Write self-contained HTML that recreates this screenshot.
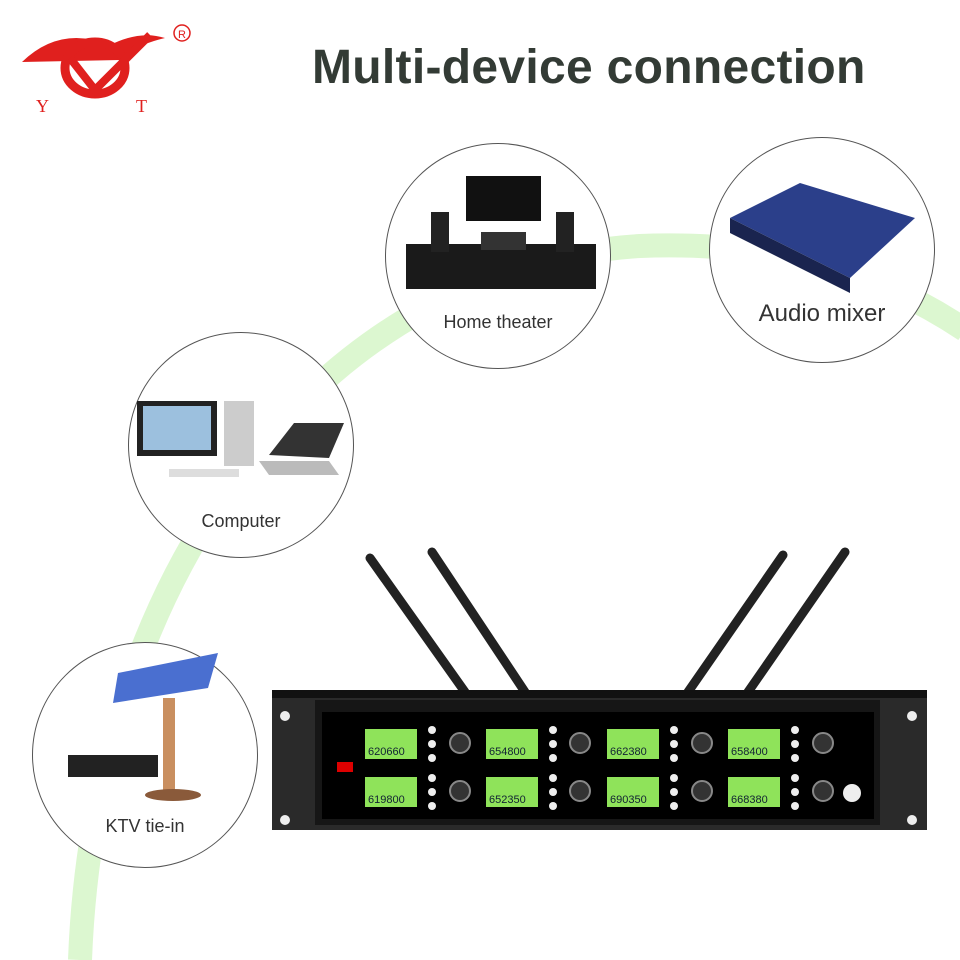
<!DOCTYPE html>
<html><head><meta charset="utf-8"><style>
body{margin:0;background:#fff;width:960px;height:960px;overflow:hidden;position:relative;font-family:"Liberation Sans",sans-serif}
.t{position:absolute;left:312px;top:40px;font-size:48px;font-weight:bold;color:#333b35;letter-spacing:0.3px}
.c{position:absolute;border:1.5px solid #555;border-radius:50%;background:#fff;box-sizing:border-box}
.lbl{position:absolute;width:100%;text-align:center;color:#333;font-size:18px}
</style></head><body>
<svg width="960" height="960" style="position:absolute;left:0;top:0">
<path d="M80 960 C 95 560 330 265 640 246 C 790 240 890 280 965 330" fill="none" stroke="#dcf7d0" stroke-width="24"/>
<path d="M22 62 Q60 25 110 45 Q140 30 165 38 Q135 45 120 60" fill="#e0201e"/>
<ellipse cx="95" cy="68" rx="30" ry="26" fill="none" stroke="#e0201e" stroke-width="9"/>
<path d="M70 58 L95 90 L150 35" fill="none" stroke="#e0201e" stroke-width="8"/>
<text x="36" y="112" font-family="Liberation Serif" font-size="18" fill="#e0201e">Y</text>
<text x="136" y="112" font-family="Liberation Serif" font-size="18" fill="#e0201e">T</text>
<circle cx="182" cy="33" r="8" fill="none" stroke="#e0201e" stroke-width="1.5"/>
<text x="178" y="38" font-size="11" fill="#e0201e">R</text>
<g stroke="#222" stroke-width="9" stroke-linecap="round">
<line x1="370" y1="558" x2="465" y2="692"/><line x1="432" y1="552" x2="525" y2="692"/>
<line x1="783" y1="555" x2="688" y2="692"/><line x1="845" y1="552" x2="748" y2="692"/>
</g>
<rect x="272" y="690" width="655" height="140" fill="#2a2a2a"/>
<rect x="272" y="690" width="655" height="8" fill="#111"/>
<rect x="315" y="700" width="565" height="125" fill="#161616"/>
<rect x="322" y="712" width="552" height="107" fill="#000"/>
<circle cx="285" cy="716" r="5" fill="#eee"/><circle cx="285" cy="820" r="5" fill="#eee"/>
<circle cx="912" cy="716" r="5" fill="#eee"/><circle cx="912" cy="820" r="5" fill="#eee"/>
<rect x="337" y="762" width="16" height="10" fill="#d00"/>
<g fill="#8fe35a">
<rect x="365" y="729" width="52" height="30"/><rect x="486" y="729" width="52" height="30"/><rect x="607" y="729" width="52" height="30"/><rect x="728" y="729" width="52" height="30"/>
<rect x="365" y="777" width="52" height="30"/><rect x="486" y="777" width="52" height="30"/><rect x="607" y="777" width="52" height="30"/><rect x="728" y="777" width="52" height="30"/>
</g>
<g font-size="11" fill="#123">
<text x="368" y="755">620660</text><text x="489" y="755">654800</text><text x="610" y="755">662380</text><text x="731" y="755">658400</text>
<text x="368" y="803">619800</text><text x="489" y="803">652350</text><text x="610" y="803">690350</text><text x="731" y="803">668380</text>
</g>
<g fill="#eee">
<circle cx="432" cy="730" r="4"/><circle cx="432" cy="744" r="4"/><circle cx="432" cy="758" r="4"/>
<circle cx="553" cy="730" r="4"/><circle cx="553" cy="744" r="4"/><circle cx="553" cy="758" r="4"/>
<circle cx="674" cy="730" r="4"/><circle cx="674" cy="744" r="4"/><circle cx="674" cy="758" r="4"/>
<circle cx="795" cy="730" r="4"/><circle cx="795" cy="744" r="4"/><circle cx="795" cy="758" r="4"/>
<circle cx="432" cy="778" r="4"/><circle cx="432" cy="792" r="4"/><circle cx="432" cy="806" r="4"/>
<circle cx="553" cy="778" r="4"/><circle cx="553" cy="792" r="4"/><circle cx="553" cy="806" r="4"/>
<circle cx="674" cy="778" r="4"/><circle cx="674" cy="792" r="4"/><circle cx="674" cy="806" r="4"/>
<circle cx="795" cy="778" r="4"/><circle cx="795" cy="792" r="4"/><circle cx="795" cy="806" r="4"/>
<circle cx="852" cy="793" r="9"/>
</g>
<g fill="#333" stroke="#888" stroke-width="2">
<circle cx="460" cy="743" r="10"/><circle cx="580" cy="743" r="10"/><circle cx="702" cy="743" r="10"/><circle cx="823" cy="743" r="10"/>
<circle cx="460" cy="791" r="10"/><circle cx="580" cy="791" r="10"/><circle cx="702" cy="791" r="10"/><circle cx="823" cy="791" r="10"/>
</g>
</svg>
<div class="t">Multi-device connection</div>
<div class="c" style="left:385px;top:143px;width:226px;height:226px">
<svg width="226" height="226" style="position:absolute;left:0;top:0"><rect x="80" y="32" width="75" height="45" fill="#111"/><rect x="20" y="100" width="190" height="45" fill="#1a1a1a"/><rect x="45" y="68" width="18" height="40" fill="#222"/><rect x="170" y="68" width="18" height="40" fill="#222"/><rect x="95" y="88" width="45" height="18" fill="#333"/></svg>
<div class="lbl" style="top:168px">Home theater</div></div>
<div class="c" style="left:709px;top:137px;width:226px;height:226px">
<svg width="226" height="226" style="position:absolute;left:0;top:0"><polygon points="20,80 90,45 205,80 140,140" fill="#2b3f8a"/><polygon points="20,80 140,140 140,155 20,95" fill="#1a244f"/></svg>
<div class="lbl" style="top:162px;font-size:24px">Audio mixer</div></div>
<div class="c" style="left:128px;top:332px;width:226px;height:226px">
<svg width="226" height="226" style="position:absolute;left:0;top:0"><rect x="8" y="68" width="80" height="55" fill="#222"/><rect x="14" y="73" width="68" height="44" fill="#9cc0de"/><rect x="95" y="68" width="30" height="65" fill="#ccc"/><polygon points="140,122 165,90 215,90 200,125" fill="#333"/><polygon points="130,128 200,128 210,142 140,142" fill="#bbb"/><rect x="40" y="136" width="70" height="8" fill="#ddd"/></svg>
<div class="lbl" style="top:178px">Computer</div></div>
<div class="c" style="left:32px;top:642px;width:226px;height:226px">
<svg width="226" height="226" style="position:absolute;left:0;top:0"><polygon points="85,30 185,10 175,45 80,60" fill="#4a6fd0"/><rect x="130" y="55" width="12" height="95" fill="#c98f60"/><ellipse cx="140" cy="152" rx="28" ry="6" fill="#8a5a3a"/><rect x="35" y="112" width="90" height="22" fill="#222"/></svg>
<div class="lbl" style="top:173px">KTV tie-in</div></div>
</body></html>
